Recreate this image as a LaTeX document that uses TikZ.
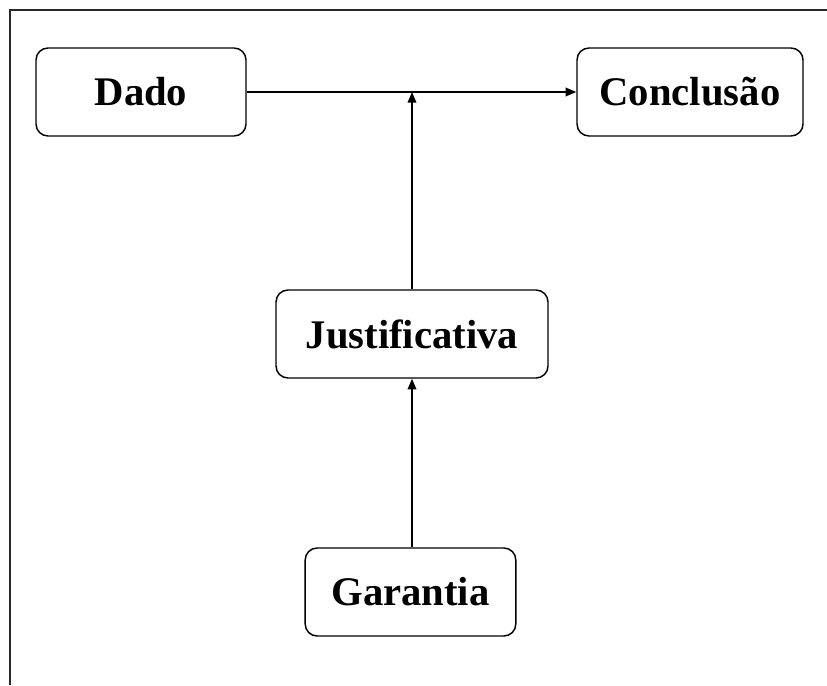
\documentclass[tikz,border=0pt]{standalone}
\usepackage{fontspec}
\setmainfont{Liberation Serif}
\usetikzlibrary{arrows.meta}

\tikzset{
  rbox/.style={draw,rounded corners=9pt,line width=1.1pt,minimum height=66pt,
    inner sep=0pt,font=\fontsize{30.5}{36}\selectfont\bfseries},
  flow/.style={line width=1.1pt,-{Triangle[length=8pt,width=6.5pt]}}
}

\begin{document}
\begin{tikzpicture}[x=0.75pt,y=0.75pt,yscale=-1,xscale=1]
\useasboundingbox (0,0) rectangle (827,685);

%Straight Lines (frame)
\draw [color={rgb, 255:red, 40; green, 40; blue, 40 }, line width=1.1pt]  (10,685) -- (10,10) -- (827,10) ;

%Shape: Rounded Rect
\node [rbox, minimum width=157.5pt] (dado) at (141,92) {Dado};
%Shape: Rounded Rect
\node [rbox, minimum width=169.5pt] (concl) at (690,92) {Conclusão};
%Shape: Rounded Rect
\node [rbox, minimum width=204pt] (just) at (412,334) {Justificativa};
%Shape: Rounded Rect
\node [rbox, minimum width=158pt] (gar) at (410.5,592) {Garantia};

\coordinate (junc) at (just.north |- dado.east);

%Straight Lines
\draw [flow]  (dado.east) -- (concl.west) ;
%Straight Lines
\draw [flow]  (just.north) -- (junc) ;
%Straight Lines
\draw [flow]  (gar.north -| just.south) -- (just.south) ;

\end{tikzpicture}
\end{document}
